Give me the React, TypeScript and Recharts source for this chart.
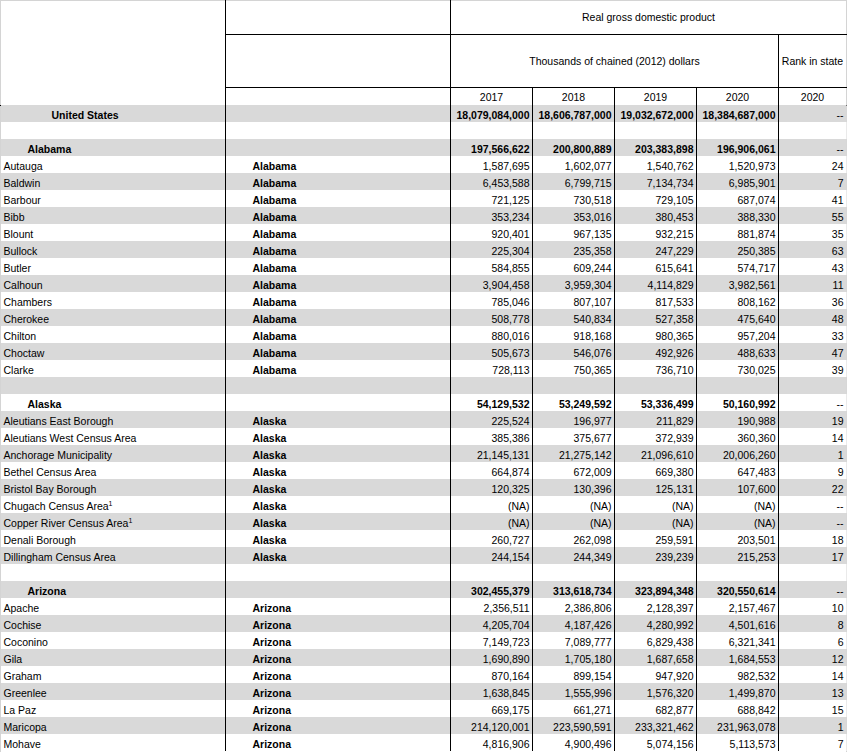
import React from 'react'
import { BarChart, Bar, XAxis, YAxis, ReferenceLine, Customized } from 'recharts'

// table values
const YEARS = ['2017', '2018', '2019', '2020']
const US_GDP = [18079084000, 18606787000, 19032672000, 18384687000]

const ALABAMA_TOTAL = [197566622, 200800889, 203383898, 196906061]
const ALABAMA_COUNTIES = ['Autauga', 'Baldwin', 'Barbour', 'Bibb', 'Blount', 'Bullock', 'Butler', 'Calhoun', 'Chambers', 'Cherokee', 'Chilton', 'Choctaw', 'Clarke']
const ALABAMA_GDP = [
  [1587695, 1602077, 1540762, 1520973],
  [6453588, 6799715, 7134734, 6985901],
  [721125, 730518, 729105, 687074],
  [353234, 353016, 380453, 388330],
  [920401, 967135, 932215, 881874],
  [225304, 235358, 247229, 250385],
  [584855, 609244, 615641, 574717],
  [3904458, 3959304, 4114829, 3982561],
  [785046, 807107, 817533, 808162],
  [508778, 540834, 527358, 475640],
  [880016, 918168, 980365, 957204],
  [505673, 546076, 492926, 488633],
  [728113, 750365, 736710, 730025],
]
const ALABAMA_RANK = [24, 7, 41, 55, 35, 63, 43, 11, 36, 48, 33, 47, 39]

const ALASKA_TOTAL = [54129532, 53249592, 53336499, 50160992]
const ALASKA_COUNTIES = ['Aleutians East Borough', 'Aleutians West Census Area', 'Anchorage Municipality', 'Bethel Census Area', 'Bristol Bay Borough', 'Chugach Census Area', 'Copper River Census Area', 'Denali Borough', 'Dillingham Census Area']
const ALASKA_GDP = [
  [225524, 196977, 211829, 190988],
  [385386, 375677, 372939, 360360],
  [21145131, 21275142, 21096610, 20006260],
  [664874, 672009, 669380, 647483],
  [120325, 130396, 125131, 107600],
  [null, null, null, null],
  [null, null, null, null],
  [260727, 262098, 259591, 203501],
  [244154, 244349, 239239, 215253],
]
const ALASKA_RANK = [19, 14, 1, 9, 22, null, null, 18, 17]
const FOOTNOTED = ['Chugach Census Area', 'Copper River Census Area']

const ARIZONA_TOTAL = [302455379, 313618734, 323894348, 320550614]
const ARIZONA_COUNTIES = ['Apache', 'Cochise', 'Coconino', 'Gila', 'Graham', 'Greenlee', 'La Paz', 'Maricopa', 'Mohave']
const ARIZONA_GDP = [
  [2356511, 2386806, 2128397, 2157467],
  [4205704, 4187426, 4280992, 4501616],
  [7149723, 7089777, 6829438, 6321341],
  [1690890, 1705180, 1687658, 1684553],
  [870164, 899154, 947920, 982532],
  [1638845, 1555996, 1576320, 1499870],
  [669175, 661271, 682877, 688842],
  [214120001, 223590591, 233321462, 231963078],
  [4816906, 4900496, 5074156, 5113573],
]
const ARIZONA_RANK = [10, 8, 6, 12, 14, 13, 15, 1, 7]

// layout
const COL_W = [225, 225, 82, 82, 82, 82, 68]
const EDGES = COL_W.reduce((acc, w) => [...acc, acc[acc.length - 1] + w], [0])
const TOTAL_W = EDGES[EDGES.length - 1]
const HEAD_TOP = 105
const FONT = '"Liberation Sans", Arial, sans-serif'
const FS = 10.5
const GRAY = '#d9d9d9'

type Row = {
  key: string
  kind: 'us' | 'blank' | 'state' | 'county'
  name: string
  state: string
  vals: (number | null)[]
  rank: string
  note?: boolean
}

const groups = [
  { name: 'Alabama', total: ALABAMA_TOTAL, counties: ALABAMA_COUNTIES, gdp: ALABAMA_GDP, rank: ALABAMA_RANK },
  { name: 'Alaska', total: ALASKA_TOTAL, counties: ALASKA_COUNTIES, gdp: ALASKA_GDP, rank: ALASKA_RANK },
  { name: 'Arizona', total: ARIZONA_TOTAL, counties: ARIZONA_COUNTIES, gdp: ARIZONA_GDP, rank: ARIZONA_RANK },
]

const rows: Row[] = []
rows.push({ key: 'r0', kind: 'us', name: 'United States', state: '', vals: US_GDP, rank: '--' })
groups.forEach((g) => {
  rows.push({ key: 'r' + rows.length, kind: 'blank', name: '', state: '', vals: [], rank: '' })
  rows.push({ key: 'r' + rows.length, kind: 'state', name: g.name, state: '', vals: g.total, rank: '--' })
  g.counties.forEach((c, i) => {
    rows.push({
      key: 'r' + rows.length,
      kind: 'county',
      name: c,
      state: g.name,
      vals: g.gdp[i],
      rank: g.rank[i] == null ? '--' : String(g.rank[i]),
      note: FOOTNOTED.includes(c),
    })
  })
})

const fmt = (v: number | null) => (v == null ? '(NA)' : v.toLocaleString('en-US'))

const cellShape = (col: number) => (props: any) => {
  const { x, y, width, height, payload, index } = props
  const row: Row = payload
  const fill = index % 2 === 0 ? GRAY : '#ffffff'
  const base = y + 14
  const bold = row.kind === 'us' || row.kind === 'state'
  let text: React.ReactNode = null

  if (col === 0 && row.name) {
    const indent = row.kind === 'us' ? 51 : row.kind === 'state' ? 27 : 3
    text = (
      <text x={x + indent} y={base} fontWeight={bold ? 'bold' : 'normal'}>
        {row.name}
        {row.note && <tspan dy={-4} fontSize={7}>1</tspan>}
      </text>
    )
  } else if (col === 1 && row.state) {
    text = <text x={x + 27} y={base} fontWeight="bold">{row.state}</text>
  } else if (col >= 2 && col <= 5 && row.vals.length) {
    text = (
      <text x={x + width - 3} y={base} textAnchor="end" fontWeight={bold ? 'bold' : 'normal'}>
        {fmt(row.vals[col - 2])}
      </text>
    )
  } else if (col === 6 && row.rank) {
    text = <text x={x + width - 3} y={base} textAnchor="end">{row.rank}</text>
  }

  return (
    <g fontFamily={FONT} fontSize={FS} fill="#000">
      <rect x={x} y={y} width={width} height={height} fill={fill} shapeRendering="crispEdges" />
      {text}
    </g>
  )
}

const HeaderLayer = () => {
  const ex = (i: number) => EDGES[i] + 0.5
  const mid = (a: number, b: number) => (EDGES[a] + EDGES[b]) / 2 + 0.5
  const ln = { stroke: '#000', strokeWidth: 1 }
  return (
    <g fontFamily={FONT} fontSize={FS} fill="#000">
      <rect x={0} y={0} width={TOTAL_W + 1} height={HEAD_TOP} fill="#fff" />
      <line x1={0} y1={0.5} x2={TOTAL_W + 1} y2={0.5} stroke="#d4d4d4" />
      <line x1={0.5} y1={0} x2={0.5} y2={752} stroke="#d4d4d4" />
      <line x1={TOTAL_W + 0.5} y1={0} x2={TOTAL_W + 0.5} y2={752} stroke="#d4d4d4" />
      <line x1={ex(1)} y1={0} x2={ex(1)} y2={HEAD_TOP} {...ln} />
      <line x1={ex(2)} y1={0} x2={ex(2)} y2={HEAD_TOP} {...ln} />
      <line x1={ex(6)} y1={34} x2={ex(6)} y2={HEAD_TOP} {...ln} />
      {[3, 4, 5].map((i) => (
        <line key={i} x1={ex(i)} y1={87} x2={ex(i)} y2={HEAD_TOP} {...ln} />
      ))}
      <line x1={EDGES[1]} y1={34.5} x2={TOTAL_W + 1} y2={34.5} {...ln} />
      <line x1={EDGES[1]} y1={87.5} x2={TOTAL_W + 1} y2={87.5} {...ln} />
      <line x1={0} y1={HEAD_TOP + 0.5} x2={TOTAL_W + 1} y2={HEAD_TOP + 0.5} {...ln} />
      <text x={mid(2, 7)} y={21} textAnchor="middle">Real gross domestic product</text>
      <text x={mid(2, 6)} y={65} textAnchor="middle">Thousands of chained (2012) dollars</text>
      <text x={mid(6, 7)} y={65} textAnchor="middle">Rank in state</text>
      {YEARS.map((yr, i) => (
        <text key={yr} x={mid(2 + i, 3 + i)} y={101} textAnchor="middle">{yr}</text>
      ))}
      <text x={mid(6, 7)} y={101} textAnchor="middle">2020</text>
    </g>
  )
}

export default function App() {
  return (
    <div style={{ width: 847, height: 752 }}>
      <style>{'body{margin:0}'}</style>
      <BarChart
        layout="vertical"
        width={847}
        height={752}
        data={rows}
        margin={{ top: HEAD_TOP, right: 0.5, bottom: 1, left: 0.5 }}
        barCategoryGap={0}
        barGap={0}
      >
        <XAxis type="number" domain={[0, TOTAL_W]} hide allowDataOverflow />
        <YAxis type="category" dataKey="key" hide />
        {COL_W.map((w, c) => (
          <Bar
            key={c}
            dataKey={() => w}
            stackId="row"
            shape={cellShape(c)}
            isAnimationActive={false}
          />
        ))}
        {EDGES.slice(1, -1).map((e) => (
          <ReferenceLine key={e} x={e} stroke="#000" strokeWidth={1} ifOverflow="visible" />
        ))}
        <Customized component={HeaderLayer} />
      </BarChart>
    </div>
  )
}
